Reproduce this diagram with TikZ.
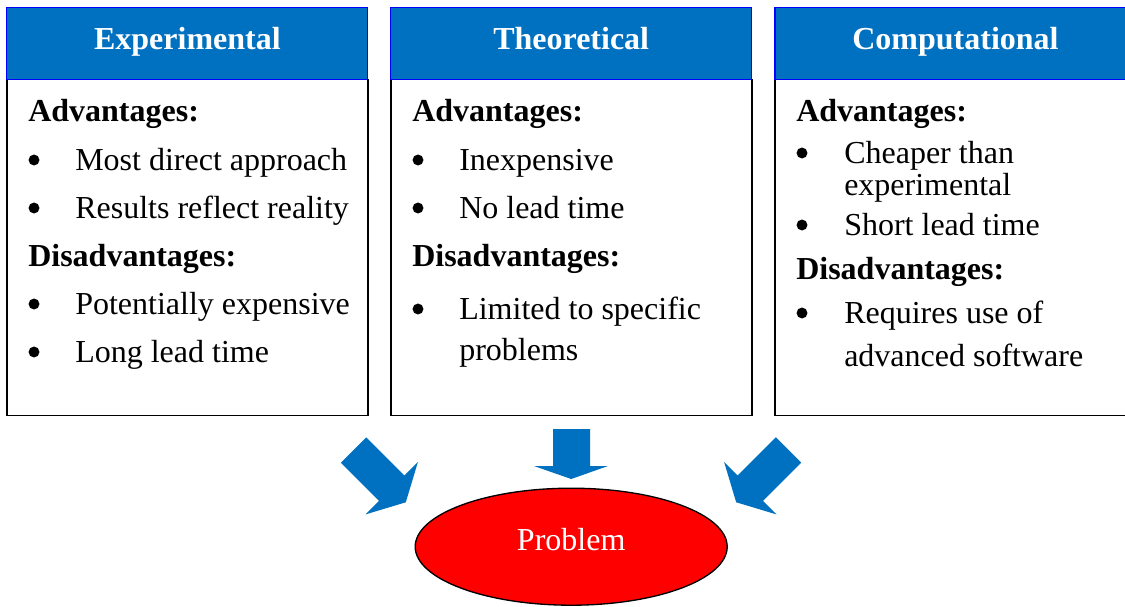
\documentclass[tikz,border=0pt]{standalone}
\usepackage{fontspec}
\setmainfont{Liberation Serif}
\usetikzlibrary{shapes.geometric}

\definecolor{headblue}{HTML}{0070C0}

\tikzset{
  head/.style={draw=blue, line width=0.8pt, fill=headblue, text=white,
    font=\bfseries\fontsize{24}{29}\selectfont, inner sep=0pt,
    minimum width=270.75pt, minimum height=54pt,
    text height=15pt, text depth=6.4pt},
  body/.style={draw=black, line width=1.3pt, inner sep=0pt,
    minimum width=270.75pt, minimum height=252pt},
  txt/.style={anchor=base west, inner sep=0pt, font=\fontsize{24}{29}\selectfont},
  sub/.style={txt, font=\bfseries\fontsize{24}{29}\selectfont},
  dot/.style={circle, fill=black, inner sep=0pt, minimum size=8.2pt},
  blockarrow/.style={fill=headblue}
}

\begin{document}
\begin{tikzpicture}[x=0.75pt, y=-0.75pt]
\useasboundingbox (0,0) rectangle (1125,607);

% the three columns
\node [body] (expbody) at (187.4,247.4) {};
\node [body] (theobody) at (571.2,247.4) {};
\node [body] (compbody) at (955.5,247.4) {};

\node [head] (exphead) at (187.4,43.3) {Experimental};
\node [head] (theohead) at (571.2,43.3) {Theoretical};
\node [head] (comphead) at (955.5,43.3) {Computational};

% experimental
\node [sub] (expadv) at (28,121) {Advantages:};
\node [dot] (expb1) at (34,160) {};
\node [txt] (expa1) at (75,170) {Most direct approach};
\node [dot] (expb2) at (34,208) {};
\node [txt] (expa2) at (75,218) {Results reflect reality};
\node [sub] (expdis) at (28,266) {Disadvantages:};
\node [dot] (expb3) at (34,304) {};
\node [txt] (expd1) at (75,314) {Potentially expensive};
\node [dot] (expb4) at (34,352) {};
\node [txt] (expd2) at (75,362) {Long lead time};

% theoretical
\node [sub] (theoadv) at (412,121) {Advantages:};
\node [dot] (theob1) at (418,160) {};
\node [txt] (theoa1) at (459,170) {Inexpensive};
\node [dot] (theob2) at (418,208) {};
\node [txt] (theoa2) at (459,218) {No lead time};
\node [sub] (theodis) at (412,266) {Disadvantages:};
\node [dot] (theob3) at (418,309) {};
\node [txt] (theod1) at (459,319) {Limited to specific};
\node [txt] (theod1b) at (459,360) {problems};

% computational
\node [sub] (compadv) at (796,121) {Advantages:};
\node [dot] (compb1) at (802,153) {};
\node [txt] (compa1) at (844,163) {Cheaper than};
\node [txt] (compa1b) at (844,195) {experimental};
\node [dot] (compb2) at (802,225) {};
\node [txt] (compa2) at (844,235) {Short lead time};
\node [sub] (compdis) at (796,279) {Disadvantages:};
\node [dot] (compb3) at (802,313) {};
\node [txt] (compd1) at (844,323) {Requires use of};
\node [txt] (compd1b) at (844,366) {advanced software};

% arrows down to the problem
\fill [blockarrow] (340.8,462.7)--(366.2,437.3)--(404.4,475.5)--(417.9,462)
  --(405.8,502.3)--(365.5,514.4)--(379,500.9)--cycle;
\fill [blockarrow] (553,429)--(590,429)--(590,466)--(608,466)
  --(571.2,479)--(534,466)--(553,466)--cycle;
\fill [blockarrow] (801.2,462.7)--(775.8,437.3)--(737.6,475.5)--(724.1,462)
  --(736.2,502.3)--(776.5,514.4)--(763,500.9)--cycle;

\node [ellipse, draw=black, line width=1pt, fill=red, text=white,
  minimum width=234pt, minimum height=87.75pt, inner sep=0pt,
  text height=12pt, text depth=7pt,
  font=\fontsize{24}{29}\selectfont] (problem) at (571.2,546.7) {Problem};

\end{tikzpicture}
\end{document}
